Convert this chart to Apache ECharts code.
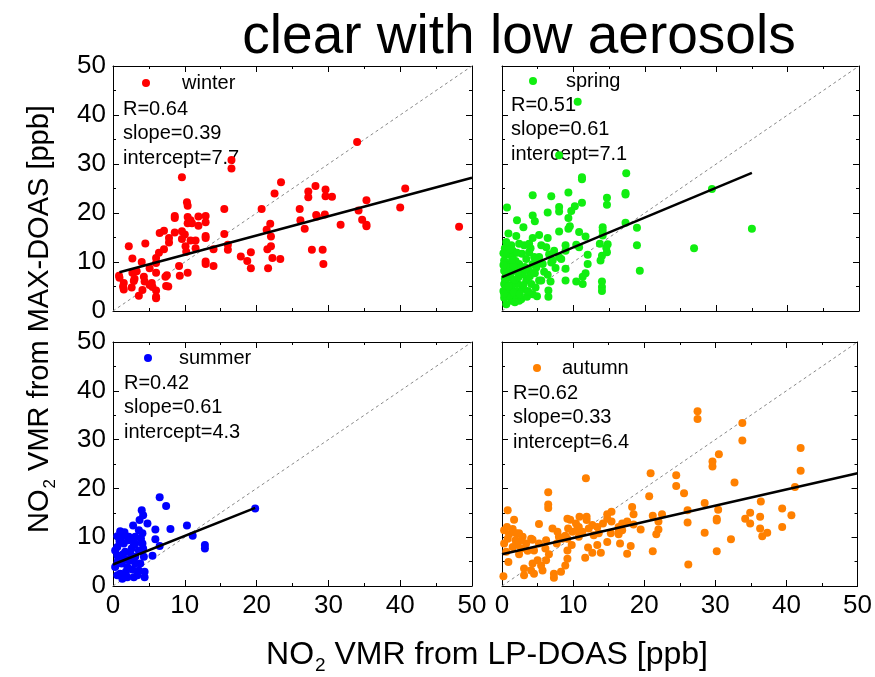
<!DOCTYPE html>
<html>
<head>
<meta charset="utf-8">
<script src="https://cdn.jsdelivr.net/npm/echarts@6/dist/echarts.min.js"></script>
<style>
html,body{margin:0;padding:0;background:#fff;}
#chart{width:875px;height:677px;}
</style>
</head>
<body>
<div id="chart"></div>
<script>
// ---------------- DATA ----------------
const titleText = 'clear with low aerosols';
const seasons = ['winter', 'spring', 'summer', 'autumn'];
const axisTicks = [0, 10, 20, 30, 40, 50];

const statsWinter = ['R=0.64', 'slope=0.39', 'intercept=7.7'];
const statsSpring = ['R=0.51', 'slope=0.61', 'intercept=7.1'];
const statsSummer = ['R=0.42', 'slope=0.61', 'intercept=4.3'];
const statsAutumn = ['R=0.62', 'slope=0.33', 'intercept=6.4'];

// fit line endpoints
const fitWinter = [[0.9, 7.9], [50, 27.2]];
const fitSpring = [[0, 6.9], [35, 28.2]];
const fitSummer = [[0, 4.4], [19.8, 16.0]];
const fitAutumn = [[0, 6.5], [50, 23.1]];
const oneToOne = [[0, 0], [50, 50]];

const winterPoints = [
[0.84,7.2],[0.9,6.8],[2.2,13.2],[2.7,10.7],[1.5,5.7],[1.5,4.4],[2.6,4.8],[2.9,6.1],[2.7,7.8],[3.3,8.1],
[3.6,3.1],[4.0,10.0],[4.5,13.8],[4.1,4.3],[4.3,7.0],[4.4,6.0],[5.1,8.7],[5.1,5.3],[5.4,5.7],[6.0,7.8],
[6.0,4.2],[6.0,2.9],[6.0,2.6],[6.0,9.8],[6.0,10.8],[6.4,11.9],[6.5,15.9],[7.1,16.4],[7.1,12.6],[7.3,7.0],
[7.5,7.3],[7.4,5.1],[7.7,5.0],[7.8,14.9],[7.8,14.0],[8.6,19.4],[8.6,19.0],[8.6,16.0],[9.2,9.2],[9.3,7.2],
[9.6,27.3],[9.6,16.3],[9.6,14.7],[10.0,15.6],[10.1,13.2],[10.2,12.1],[10.3,22.2],[10.4,21.5],[10.4,19.2],[10.4,17.9],
[10.4,7.8],[10.8,18.5],[10.8,14.4],[11.0,17.9],[11.5,14.4],[11.5,12.8],[11.9,19.3],[11.9,17.4],[12.9,19.4],[12.9,18.1],
[12.9,15.3],[12.9,14.9],[12.9,10.1],[12.9,9.6],[14.0,12.6],[14.0,9.2],[15.5,20.8],[15.5,15.7],[16.0,13.5],[16.0,12.5],
[16.5,30.8],[16.5,29.1],[17.8,11.1],[18.7,10.2],[19.2,12.0],[19.2,8.7],[20.7,20.8],[21.4,16.6],[21.5,12.6],[21.6,8.7],
[21.9,17.8],[22.0,15.2],[22.0,13.2],[22.2,10.8],[22.5,24.0],[23.3,10.6],[23.4,26.3],[26.0,20.8],[26.1,18.5],[26.7,16.8],
[27.2,24.4],[27.2,23.2],[27.7,12.5],[28.2,25.5],[28.3,19.6],[28.4,19.3],[29.2,12.5],[29.3,9.6],[29.5,19.7],[29.6,24.8],
[29.6,23.4],[30.5,23.3],[31.7,17.6],[34.0,34.5],[34.2,20.5],[34.7,18.6],[35.3,22.6],[35.3,17.6],[35.3,17.3],[40.0,21.1],
[40.7,25.0],[48.2,17.2],[1.4,5.0],[3.0,6.6],[5.5,4.9]
];

const springPoints = [
[10.6,42.7],[8.0,31.8],[17.4,28.1],[11.2,27.3],[11.2,26.9],[29.4,24.9],[4.3,23.6],[6.9,23.4],[9.3,24.2],[17.3,24.1],
[17.3,23.8],[14.7,23.1],[14.7,21.7],[0.7,21.1],[8.0,21.2],[8.0,20.3],[10.2,21.4],[11.2,22.1],[9.7,20.4],[6.4,20.1],
[4.3,19.5],[4.6,18.3],[9.3,19.0],[2.1,18.5],[3.0,17.1],[17.3,18.0],[18.9,17.0],[35.0,16.8],[0.9,15.8],[2.0,15.3],
[5.2,15.5],[8.0,16.2],[9.5,17.3],[9.3,16.8],[10.8,16.1],[11.7,15.2],[14.1,17.1],[14.1,16.4],[14.1,15.4],[6.4,14.9],
[4.3,14.9],[18.9,13.4],[26.9,12.8],[19.3,8.2],[14.8,13.6],[14.7,12.0],[14.6,12.9],[13.7,13.7],[13.8,10.3],[14.0,11.3],
[12.0,11.5],[12.0,9.6],[11.7,7.7],[11.3,7.0],[11.3,5.5],[10.4,6.0],[10.4,13.5],[8.9,13.4],[8.9,12.3],[8.3,10.6],
[8.9,8.6],[8.9,6.2],[14.0,6.0],[14.0,4.9],[14.0,4.1],[6.4,7.4],[6.5,4.2],[6.5,2.9],[5.5,6.2],[7.5,8.8],
[6.9,9.9],[6.6,11.6],[6.2,13.0],[5.5,13.4],[3.1,13.4],[2.4,13.7],[1.3,13.4],[0.8,11.6],[1.5,12.3],[3.8,12.0],
[4.5,11.0],[4.8,8.9],[3.4,10.6],[2.4,9.6],[1.0,9.6],[0.3,10.3],[0.3,8.2],[0.3,5.5],[0.3,2.7],[1.0,6.8],
[1.5,5.5],[2.0,4.1],[2.7,2.4],[3.4,6.2],[3.8,8.2],[4.3,3.4],[2.9,7.5],[1.7,8.2],[0.8,4.1],[1.3,2.1],
[2.2,5.5],[5.2,6.2],[4.1,5.5],[2.4,2.1],[0.2,4.1],[0.6,1.4],[2.9,4.5],[3.6,4.1],[2.0,2.7],[1.3,5.1],
[5.2,11.0],[5.7,9.6],[7.3,12.3],[8.0,11.0],[7.1,10.3],[1.5,11.0],[4.3,9.6],[10.8,13.0],[3.8,13.7],[0.5,7.0],
[1.1,3.3],[1.8,6.4],[2.6,8.8],[3.2,9.0],[3.9,7.1],[4.7,4.8],[0.4,12.8],[1.9,10.2],[2.8,11.7],[3.5,2.9],
[0.9,9.0],[0.5,5.9],[1.6,3.8],[2.3,6.9],[3.0,5.3],[4.0,12.8],[5.9,8.0],[6.8,6.0],[0.2,9.4],[1.2,7.6],
[2.5,3.4],[3.3,8.5],[4.6,7.7],[5.0,10.3],[0.7,3.0],[1.6,9.3],[2.1,11.9],[3.7,3.9],[4.9,3.0],[0.4,6.6],
[0.2,11.8],[0.6,14.1],[1.1,12.6],[0.3,3.5],[1.8,1.8],[0.9,5.0],[2.2,8.0],[1.4,10.4]
];

const summerPoints = [
[6.5,18.2],[7.4,16.4],[19.8,15.9],[4.0,15.5],[4.2,14.5],[3.7,13.5],[2.8,12.4],[4.8,12.8],[10.3,12.4],[8.0,11.7],
[5.9,11.6],[11.1,10.3],[5.9,9.6],[12.8,8.4],[12.8,7.7],[6.5,8.2],[5.5,6.2],[1.0,11.2],[1.6,11.0],[1.2,10.1],
[2.2,10.1],[3.1,10.1],[3.6,11.4],[4.1,10.8],[4.1,8.7],[2.9,8.4],[2.6,7.7],[2.4,6.8],[0.6,8.0],[0.6,6.3],
[0.6,4.6],[0.6,2.2],[1.3,5.3],[1.7,7.0],[2.0,3.9],[1.0,2.5],[3.1,4.6],[3.6,3.2],[4.4,2.9],[4.4,1.8],
[2.9,1.8],[2.0,1.8],[1.3,1.5],[4.3,6.0],[3.6,7.3],[2.4,5.3],[0.3,3.9],[1.5,8.7],[2.1,9.4],[3.1,6.0],
[2.0,5.4],[0.6,10.2],[0.3,7.3],[1.2,4.6],[2.7,3.4],[3.8,4.6],[4.2,7.7],[3.1,8.7],[0.7,5.3],[1.8,2.9],
[3.4,2.2],[0.9,9.2],[2.5,9.8],[3.9,9.7],[1.4,6.5]
];

const autumnPoints = [
[27.5,35.8],[27.5,34.2],[33.8,33.4],[33.8,29.8],[42.0,28.3],[30.5,27.0],[29.6,25.5],[29.6,24.5],[42.0,23.6],[20.9,23.1],
[24.5,22.7],[11.8,22.1],[32.7,21.2],[24.5,20.5],[41.2,20.3],[6.5,19.2],[25.6,19.0],[20.7,18.4],[28.5,17.0],[36.4,17.3],
[6.5,16.7],[6.5,16.0],[18.3,16.2],[39.4,15.9],[0.8,15.5],[30.4,15.6],[26.1,15.5],[15.4,15.2],[14.8,14.7],[18.5,14.7],
[22.5,14.7],[34.9,15.0],[40.7,14.5],[21.2,14.4],[30.2,13.8],[30.2,13.4],[36.3,14.2],[34.2,13.8],[1.7,13.6],[9.2,13.8],
[9.6,13.6],[11.9,14.2],[11.9,13.5],[5.2,12.7],[15.4,13.2],[16.9,12.8],[17.6,13.2],[22.0,13.2],[26.1,13.0],[34.9,12.8],
[10.4,12.8],[10.8,12.1],[12.7,12.5],[13.4,12.1],[18.5,12.6],[19.5,11.6],[22.0,11.6],[28.5,10.9],[36.3,11.8],[37.3,10.9],
[36.6,10.2],[39.4,12.1],[21.7,10.6],[16.4,11.1],[16.4,10.6],[9.3,11.8],[9.9,11.1],[11.3,11.1],[12.9,10.4],[8.9,10.3],
[8.5,9.7],[14.8,9.0],[16.6,8.7],[13.4,8.4],[18.1,8.2],[12.1,7.9],[12.7,6.8],[13.9,6.8],[17.6,6.6],[21.2,7.1],
[30.2,7.1],[32.2,9.6],[26.2,4.4],[11.7,5.8],[9.2,9.7],[9.2,7.3],[9.2,5.6],[8.9,4.2],[8.3,2.9],[7.3,2.5],
[7.3,1.7],[6.2,5.3],[6.6,6.5],[6.1,7.7],[5.2,8.7],[6.2,9.4],[4.3,9.5],[4.1,9.7],[5.0,5.3],[4.3,4.6],
[5.5,4.2],[5.7,3.2],[4.5,2.5],[4.1,3.2],[3.1,3.6],[3.1,2.2],[2.4,6.5],[2.7,7.7],[2.7,9.4],[2.0,10.8],
[1.5,11.7],[2.4,10.8],[2.9,10.1],[3.4,8.7],[1.5,8.0],[0.8,9.7],[0.3,11.4],[0.3,8.7],[0.6,7.0],[0.9,4.9],
[0.2,2.0],[0.7,12.1],[1.0,10.6],[1.9,9.4],[2.2,8.4],[3.6,7.2],[4.5,7.3],[7.1,11.8],[7.8,11.1],[8.0,10.1],
[7.7,8.7],[9.8,8.4],[10.8,10.1],[10.5,11.4],[12.2,11.8],[13.6,10.8],[14.2,12.8],[10.9,14.2],[15.3,10.8],[14.8,13.8],
[16.4,12.1],[16.9,11.4]
];

// ---------------- STYLE / LAYOUT ----------------
const FONT = '"Liberation Sans", Arial, sans-serif';
const colors = ['#ff0000', '#11ee11', '#0000ff', '#ff8000'];
const gridsPos = [
  {left: 113, top: 66, width: 359, height: 245},
  {left: 502, top: 66, width: 357, height: 245},
  {left: 113, top: 342, width: 359, height: 244},
  {left: 502, top: 342, width: 357, height: 244}
];
const pointSets = [winterPoints, springPoints, summerPoints, autumnPoints];
const fits = [fitWinter, fitSpring, fitSummer, fitAutumn];
const stats = [statsWinter, statsSpring, statsSummer, statsAutumn];
const legendPos = [
  {left: 142, top: 73, pad: 27},
  {left: 529, top: 71, pad: 24},
  {left: 144, top: 348, pad: 22},
  {left: 533, top: 358, pad: 16}
];
const statsPos = [
  {x: 123, y: 97}, {x: 511, y: 93}, {x: 124, y: 371}, {x: 513, y: 381}
];

function axisBase(gi, pos, showLabel) {
  return {
    gridIndex: gi, type: 'value', min: axisTicks[0], max: axisTicks[axisTicks.length - 1],
    interval: axisTicks[1] - axisTicks[0], position: pos,
    axisLine: {show: true, onZero: false, lineStyle: {color: '#000', width: 1}},
    axisTick: {show: true, inside: true, length: 6, lineStyle: {color: '#000', width: 1}},
    minorTick: {show: true, splitNumber: 2, length: 3, lineStyle: {color: '#000', width: 1}},
    splitLine: {show: false},
    axisLabel: {show: showLabel, fontSize: 26, color: '#000', margin: 7, fontFamily: FONT}
  };
}

const xAxes = [], yAxes = [], series = [], legends = [], graphics = [];
for (let i = 0; i < 4; i++) {
  xAxes.push(axisBase(i, 'bottom', i >= 2));
  yAxes.push(axisBase(i, 'left', i % 2 === 0));
}
for (let i = 0; i < 4; i++) {
  xAxes.push(axisBase(i, 'top', false));
  yAxes.push(axisBase(i, 'right', false));
}

for (let i = 0; i < 4; i++) {
  series.push({
    name: seasons[i] + ' 1:1', type: 'line', xAxisIndex: i, yAxisIndex: i,
    data: oneToOne, symbol: 'none', silent: true, z: 1,
    lineStyle: {color: '#888', width: 1, type: [3, 3]}
  });
  series.push({
    name: seasons[i], type: 'scatter', xAxisIndex: i, yAxisIndex: i,
    data: pointSets[i], symbol: 'circle', symbolSize: 8, z: 2,
    itemStyle: {color: colors[i], opacity: 1}
  });
  series.push({
    name: seasons[i] + ' fit', type: 'line', xAxisIndex: i, yAxisIndex: i,
    data: fits[i], symbol: 'none', silent: true, z: 3,
    lineStyle: {color: '#000', width: 2.5}
  });
  legends.push({
    data: [seasons[i]], left: legendPos[i].left, top: legendPos[i].top,
    icon: 'circle', itemWidth: 8, itemHeight: 8, selectedMode: false, padding: 0,
    textStyle: {fontSize: 20, color: '#000', fontFamily: FONT, padding: [0, 0, 0, legendPos[i].pad]}
  });
  graphics.push({
    type: 'text', left: statsPos[i].x, top: statsPos[i].y, silent: true,
    style: {text: stats[i].join('\n'), fontSize: 20, lineHeight: 24.5, fill: '#000', fontFamily: FONT}
  });
}

function richFor(size) {
  return {
    a: {fontSize: size, fontFamily: FONT, color: '#000'},
    s: {fontSize: Math.round(size * 0.6), fontFamily: FONT, color: '#000', padding: [Math.round(size * 0.7), 0, 0, 1]}
  };
}
graphics.push({
  type: 'text', x: 487, y: 655, silent: true,
  style: {text: '{a|NO}{s|2}{a| VMR from LP-DOAS [ppb]}', rich: richFor(32), align: 'center', verticalAlign: 'middle'}
});
graphics.push({
  type: 'text', x: 40, y: 319, rotation: Math.PI / 2, silent: true,
  style: {text: '{a|NO}{s|2}{a| VMR from MAX-DOAS [ppb]}', rich: richFor(29), align: 'center', verticalAlign: 'middle'}
});

const chart = echarts.init(document.getElementById('chart'), null, {renderer: 'canvas'});
chart.setOption({
  backgroundColor: '#fff',
  animation: false,
  title: {text: titleText, left: 514, top: 5, textAlign: 'center',
    textStyle: {fontSize: 55, fontWeight: 'normal', color: '#000', fontFamily: FONT}},
  grid: gridsPos.map(g => Object.assign({containLabel: false}, g)),
  xAxis: xAxes,
  yAxis: yAxes,
  legend: legends,
  series: series,
  graphic: graphics
});
</script>
</body>
</html>
